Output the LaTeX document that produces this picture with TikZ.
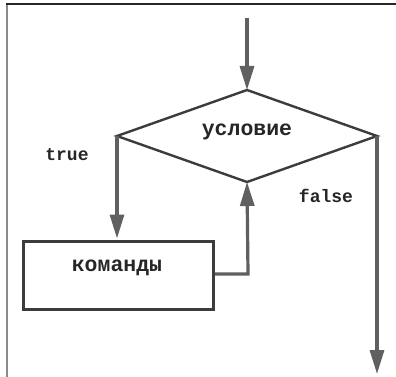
\documentclass[tikz,border=0pt]{standalone}
\usepackage{fontspec}
\setmonofont{Liberation Mono}
\usetikzlibrary{arrows.meta,shapes.geometric}
\definecolor{linegray}{HTML}{606060}
\definecolor{edgegray}{HTML}{3C3C3C}
\tikzset{
  flow/.style={draw=linegray, line width=3.2pt, -{Triangle[length=24pt,width=14pt]}},
  plain/.style={draw=linegray, line width=3.2pt},
  lbl/.style={font=\ttfamily\bfseries\fontsize{18}{20}\selectfont, text=black!85},
  big/.style={font=\ttfamily\bfseries\fontsize{21.5}{24}\selectfont, text=black!85},
}
\begin{document}
\begin{tikzpicture}[x=1pt,y=-1pt]
\useasboundingbox (0,0) rectangle (396,377);
\fill[white] (0,0) rectangle (396,377);
% frame
\draw[black!85, line width=2pt] (6,4.5) -- (396,4.5);
\draw[black!45, line width=1.4pt] (7,5) -- (7,377);
% coordinates
\coordinate (start) at (247,18);
\coordinate (dtop) at (247,90);
\coordinate (dleft) at (117,136);
\coordinate (dright) at (377,136);
\coordinate (dbot) at (247,182);
\coordinate (bend) at (248,274);
\coordinate (exit) at (377,374);
\coordinate (btop) at (117,238.5);
% diamond
\draw[edgegray, line width=2.4pt, line join=miter] (dtop) -- (dright) -- (dbot) -- (dleft) -- cycle;
\node[big] (cond) at (247,132) {условие};
% box
\node[draw=edgegray, line width=3pt, minimum width=190pt, minimum height=68pt, inner sep=0pt, anchor=north west] (box) at (22,240) {};
\node[big] (cmd) at (117,268) {команды};
% labels
\node[lbl] (t) at (67,155) {true};
\node[lbl] (f) at (326,196) {false};
% connectors
\draw[flow] (start) -- (dtop);
\draw[flow] (dleft) -- (btop);
\draw[flow] (box.east |- bend) -- (bend) -- (dbot);
\draw[flow] (dright) -- (exit);
\end{tikzpicture}
\end{document}
